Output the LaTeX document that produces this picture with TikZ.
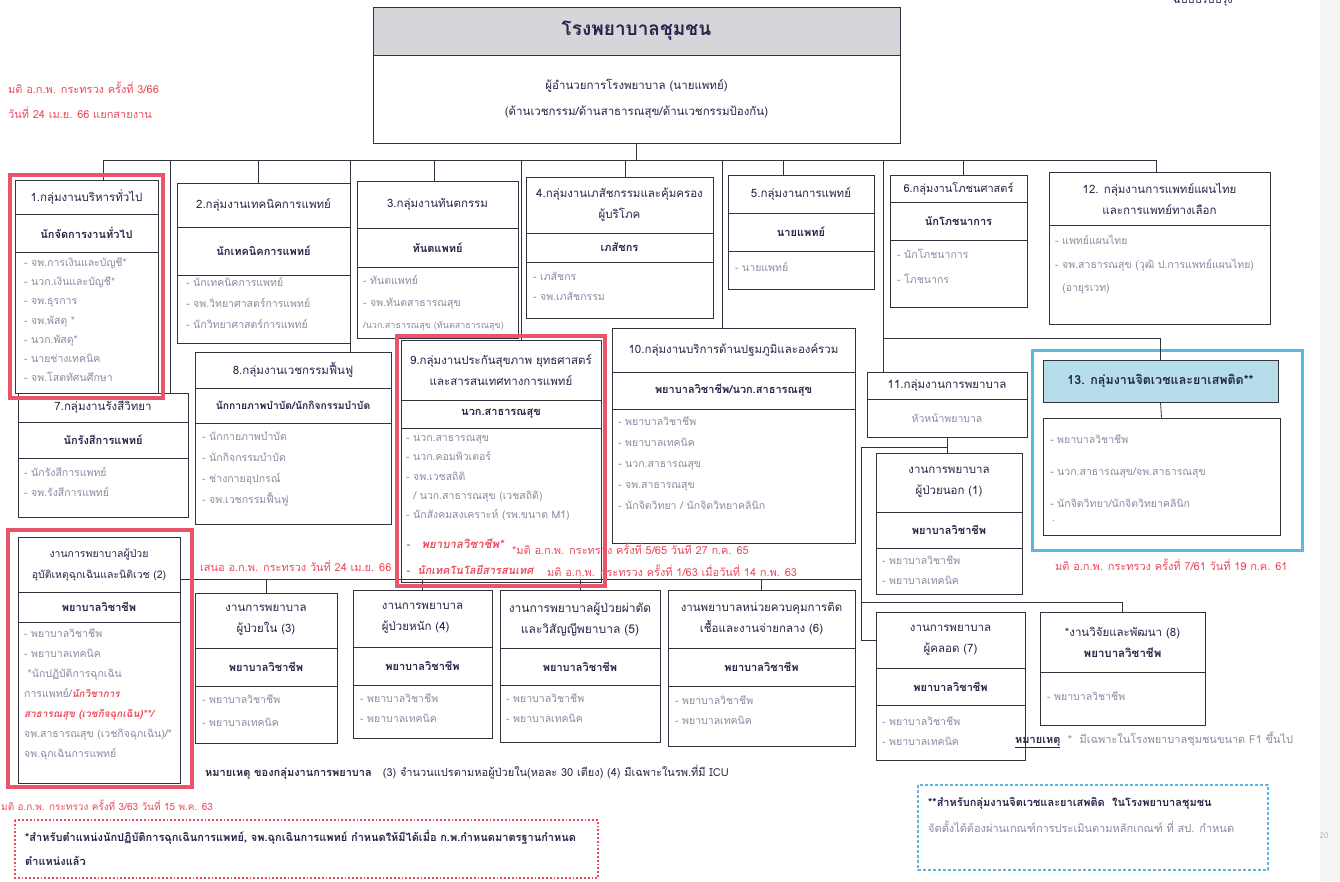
\documentclass[tikz,border=0pt]{standalone}
\usepackage{fontspec}
\setmainfont[Script=Thai]{Loma}
\newfontfamily\rit[Script=Thai,FakeSlant=0.2]{Loma}
\usetikzlibrary{calc}
\definecolor{ln}{HTML}{33333F}
\definecolor{tc}{HTML}{26264A}
\definecolor{lc}{HTML}{8C8AA2}
\definecolor{rc}{HTML}{EE4B5C}
\definecolor{rb}{HTML}{E9546B}
\definecolor{bb}{HTML}{5BB8E4}
\definecolor{bf}{HTML}{B5DDEA}
\definecolor{gf}{HTML}{D6D6DA}
\newcommand\bx[7]{\node[box,#6,minimum width={(#4-#2)*1pt},minimum height={(#5-#3)*1pt}] (#1) at ({(#2+#4)/2},{(#3+#5)/2}) {#7};}
\newcommand\lst[5]{\node[lst,font=\fontsize{10.5}{#4}\selectfont] (#1) at (#2,#3) {#5};}
\newcommand\rbi[1]{{\color{rc}\rit\bfseries #1}}
\begin{document}
\begin{tikzpicture}[x=1pt,y=-1pt,
  box/.style={draw=ln,line width=0.9pt,inner sep=1pt,align=center,text=tc,font=\fontsize{11.5}{21}\selectfont},
  sub/.style={font=\bfseries\fontsize{11}{12}\selectfont},
  lst/.style={anchor=north west,inner sep=0pt,align=left,text=lc},
  conn/.style={draw=ln,line width=0.8pt},
  rnote/.style={text=rc,inner sep=0pt,anchor=west,font=\fontsize{11}{12}\selectfont},
  redframe/.style={draw=rb,line width=3.5pt},
  note/.style={inner sep=0pt,anchor=west,text=tc,font=\fontsize{11}{12}\selectfont}]
\useasboundingbox (0,0) rectangle (1340,881);
\fill[white] (0,0) rectangle (1340,881);
\fill[gray!8] (1320,0) rectangle (1340,881);

% top
\bx{top}{373}{7}{900}{55}{fill=gf,font=\bfseries\fontsize{19}{21}\selectfont}{โรงพยาบาลชุมชน}
\bx{dir}{373}{55}{900}{143}{font=\fontsize{11.5}{26}\selectfont}{ผู้อำนวยการโรงพยาบาล (นายแพทย์)\\(ด้านเวชกรรม/ด้านสาธารณสุข/ด้านเวชกรรมป้องกัน)}
\node[inner sep=0pt,text=tc,font=\fontsize{11}{12}\selectfont] (ver) at (1203,1) {ฉบับปรับปรุง};

% group 1
\bx{g1t}{15}{180}{158}{214}{}{1.กลุ่มงานบริหารทั่วไป}
\bx{g1s}{15}{214}{158}{252}{sub}{นักจัดการงานทั่วไป}
\bx{g1l}{15}{252}{158}{393}{}{}
\lst{g1x}{24}{257}{19.3}{- จพ.การเงินและบัญชี*\\- นวก.เงินและบัญชี*\\- จพ.ธุรการ\\- จพ.พัสดุ *\\- นวก.พัสดุ*\\- นายช่างเทคนิค\\- จพ.โสตทัศนศึกษา}
% group 7
\bx{g7t}{18}{393}{188}{422}{}{7.กลุ่มงานรังสีวิทยา}
\bx{g7s}{18}{422}{188}{458}{sub}{นักรังสีการแพทย์}
\bx{g7l}{18}{458}{188}{517}{}{}
\lst{g7x}{24}{467}{20}{- นักรังสีการแพทย์\\- จพ.รังสีการแพทย์}
% group 2
\bx{g2t}{177}{183}{350}{227}{}{2.กลุ่มงานเทคนิคการแพทย์}
\bx{g2s}{177}{227}{350}{275}{sub}{นักเทคนิคการแพทย์}
\bx{g2l}{177}{275}{350}{343}{}{}
\lst{g2x}{186}{277}{21}{- นักเทคนิคการแพทย์\\- จพ.วิทยาศาสตร์การแพทย์\\- นักวิทยาศาสตร์การแพทย์}
% group 8
\bx{g8t}{195}{352}{391}{388}{}{8.กลุ่มงานเวชกรรมฟื้นฟู}
\bx{g8s}{195}{388}{391}{423}{sub,font=\bfseries\fontsize{10.3}{12}\selectfont}{นักกายภาพบำบัด/นักกิจกรรมบำบัด}
\bx{g8l}{195}{423}{391}{524}{}{}
\lst{g8x}{202}{432}{21}{- นักกายภาพบำบัด\\- นักกิจกรรมบำบัด\\- ช่างกายอุปกรณ์\\- จพ.เวชกรรมฟื้นฟู}
% group 3
\bx{g3t}{357}{181}{518}{228}{}{3.กลุ่มงานทันตกรรม}
\bx{g3s}{357}{228}{518}{267}{sub}{ทันตแพทย์}
\bx{g3l}{357}{267}{518}{338}{}{}
\lst{g3x}{363}{275}{22}{- ทันตแพทย์\\- จพ.ทันตสาธารณสุข\\{\fontsize{9}{22}\selectfont /นวก.สาธารณสุข (ทันตสาธารณสุข)}}
% group 4
\bx{g4t}{526}{177}{713}{233}{}{4.กลุ่มงานเภสัชกรรมและคุ้มครอง\\ผู้บริโภค}
\bx{g4s}{526}{233}{713}{262}{sub}{เภสัชกร}
\bx{g4l}{526}{262}{713}{318}{}{}
\lst{g4x}{533}{272}{20}{- เภสัชกร\\- จพ.เภสัชกรรม}
% group 5
\bx{g5t}{728}{175}{874}{213}{}{5.กลุ่มงานการแพทย์}
\bx{g5s}{728}{213}{874}{251}{sub}{นายแพทย์}
\bx{g5l}{728}{251}{874}{289}{}{}
\lst{g5x}{735}{262}{20}{- นายแพทย์}
% group 6
\bx{g6t}{890}{175}{1027}{202}{font=\fontsize{11}{12}\selectfont}{6.กลุ่มงานโภชนศาสตร์}
\bx{g6s}{890}{202}{1027}{240}{sub}{นักโภชนาการ}
\bx{g6l}{890}{240}{1027}{307}{}{}
\lst{g6x}{897}{249}{25}{- นักโภชนาการ\\- โภชนากร}
% group 12
\bx{g12t}{1049}{172}{1270}{225}{}{12. กลุ่มงานการแพทย์แผนไทย\\และการแพทย์ทางเลือก}
\bx{g12l}{1049}{225}{1270}{324}{}{}
\lst{g12x}{1055}{235}{23.5}{- แพทย์แผนไทย\\- จพ.สาธารณสุข (วุฒิ ป.การแพทย์แผนไทย)\\\ \ (อายุรเวท)}
% group 9
\bx{g9t}{401}{340}{601}{400}{}{9.กลุ่มงานประกันสุขภาพ ยุทธศาสตร์\\และสารสนเทศทางการแพทย์}
\bx{g9s}{401}{400}{601}{428}{sub}{นวก.สาธารณสุข}
\bx{g9l}{401}{428}{601}{582}{}{}
\lst{g9x}{406}{435}{19.3}{- นวก.สาธารณสุข\\- นวก.คอมพิวเตอร์\\- จพ.เวชสถิติ\\\ \ / นวก.สาธารณสุข (เวชสถิติ)\\- นักสังคมสงเคราะห์ (รพ.ขนาด M1)}
\node[rnote,font=\rit\bfseries\fontsize{11.5}{13}\selectfont] (g9r1) at (406,544) {-\quad พยาบาลวิชาชีพ*};
\node[rnote,font=\rit\bfseries\fontsize{11}{13}\selectfont] (g9r2) at (406,570) {-\ \ นักเทคโนโลยีสารสนเทศ};
% group 10
\bx{g10t}{612}{328}{855}{372}{}{10.กลุ่มงานบริการด้านปฐมภูมิและองค์รวม}
\bx{g10s}{612}{372}{855}{409}{sub}{พยาบาลวิชาชีพ/นวก.สาธารณสุข}
\bx{g10l}{612}{409}{855}{543}{}{}
\lst{g10x}{618}{416}{21}{- พยาบาลวิชาชีพ\\- พยาบาลเทคนิค\\- นวก.สาธารณสุข\\- จพ.สาธารณสุข\\- นักจิตวิทยา / นักจิตวิทยาคลินิก}
% group 11
\bx{g11t}{867}{372}{1027}{399}{}{11.กลุ่มงานการพยาบาล}
\bx{g11s}{867}{399}{1027}{437}{text=lc,font=\fontsize{10.5}{12}\selectfont}{หัวหน้าพยาบาล}
% nursing 1
\bx{n1t}{876}{453}{1022}{512}{}{งานการพยาบาล\\ผู้ป่วยนอก (1)}
\bx{n1s}{876}{512}{1022}{548}{sub}{พยาบาลวิชาชีพ}
\bx{n1l}{876}{548}{1022}{594}{}{}
\lst{n1x}{882}{555}{20}{- พยาบาลวิชาชีพ\\- พยาบาลเทคนิค}
% group 13
\draw[draw=bb,line width=3pt] (1032,350) rectangle (1302,550);
\bx{g13t}{1043}{360}{1278}{402}{fill=bf,font=\bfseries\fontsize{12.5}{14}\selectfont}{13. กลุ่มงานจิตเวชและยาเสพติด**}
\bx{g13l}{1043}{418}{1280}{535}{}{}
\lst{g13x}{1050}{434}{32}{- พยาบาลวิชาชีพ\\- นวก.สาธารณสุข/จพ.สาธารณสุข\\- นักจิตวิทยา/นักจิตวิทยาคลินิก}
\node[lst] (g13d) at (1052,520) {.};
% nursing 2
\bx{n2t}{18}{537}{180}{592}{font=\fontsize{10.5}{21}\selectfont}{งานการพยาบาลผู้ป่วย\\อุบัติเหตุฉุกเฉินและนิติเวช (2)}
\bx{n2s}{18}{592}{180}{622}{sub}{พยาบาลวิชาชีพ}
\bx{n2l}{18}{622}{180}{783}{}{}
\lst{n2x}{24}{628}{20}{- พยาบาลวิชาชีพ\\- พยาบาลเทคนิค\\\ *นักปฏิบัติการฉุกเฉิน\\การแพทย์/\rbi{\fontsize{10}{20}\selectfont นักวิชาการ}\\\rbi{\fontsize{10}{20}\selectfont สาธารณสุข (เวชกิจฉุกเฉิน)**/}\\จพ.สาธารณสุข (เวชกิจฉุกเฉิน)/*\\จพ.ฉุกเฉินการแพทย์}
% nursing 3
\bx{n3t}{195}{593}{337}{648}{}{งานการพยาบาล\\ผู้ป่วยใน (3)}
\bx{n3s}{195}{648}{337}{686}{sub}{พยาบาลวิชาชีพ}
\bx{n3l}{195}{686}{337}{743}{}{}
\lst{n3x}{202}{694}{23}{- พยาบาลวิชาชีพ\\- พยาบาลเทคนิค}
% nursing 4
\bx{n4t}{353}{590}{492}{647}{align=left}{งานการพยาบาล\\ผู้ป่วยหนัก (4)}
\bx{n4s}{353}{647}{492}{685}{sub}{พยาบาลวิชาชีพ}
\bx{n4l}{353}{685}{492}{738}{}{}
\lst{n4x}{360}{693}{20}{- พยาบาลวิชาชีพ\\- พยาบาลเทคนิค}
% nursing 5
\bx{n5t}{500}{590}{660}{648}{font=\fontsize{12}{21}\selectfont}{งานการพยาบาลผู้ป่วยผ่าตัด\\และวิสัญญีพยาบาล (5)}
\bx{n5s}{500}{648}{660}{685}{sub}{พยาบาลวิชาชีพ}
\bx{n5l}{500}{685}{660}{742}{}{}
\lst{n5x}{506}{693}{20}{- พยาบาลวิชาชีพ\\- พยาบาลเทคนิค}
% nursing 6
\bx{n6t}{668}{590}{855}{648}{}{งานพยาบาลหน่วยควบคุมการติด\\เชื้อและงานจ่ายกลาง (6)}
\bx{n6s}{668}{648}{855}{686}{sub}{พยาบาลวิชาชีพ}
\bx{n6l}{668}{686}{855}{746}{}{}
\lst{n6x}{675}{695}{20}{- พยาบาลวิชาชีพ\\- พยาบาลเทคนิค}
% nursing 7
\bx{n7t}{876}{612}{1025}{668}{}{งานการพยาบาล\\ผู้คลอด (7)}
\bx{n7s}{876}{668}{1025}{705}{sub}{พยาบาลวิชาชีพ}
\bx{n7l}{876}{705}{1025}{760}{}{}
\lst{n7x}{882}{716}{20}{- พยาบาลวิชาชีพ\\- พยาบาลเทคนิค}
% nursing 8
\bx{n8t}{1040}{612}{1205}{672}{}{*งานวิจัยและพัฒนา (8)\\{\bfseries พยาบาลวิชาชีพ}}
\bx{n8l}{1040}{672}{1205}{725}{}{}
\lst{n8x}{1047}{691}{20}{- พยาบาลวิชาชีพ}

% connectors
\coordinate (bL) at (103,160);
\coordinate (bR) at (1156,160);
\draw[conn] (dir.south) -- (dir.south |- bL);
\draw[conn] (bL) -- (bR);
\foreach \x/\n in {103/g1t,170/g7t,258/g2t,350/g8t,434/g3t,521/g9t,625/g4t,722/g10t,783/g5t,883/g11t,963/g6t,1156/g12t}
  {\coordinate (d\n) at (\x,160); \draw[conn] (d\n) -- (d\n |- \n.north);}
\coordinate (j13) at (883,338);
\draw[conn] (j13) -- (j13 -| g13t.north) -- (g13t.north);
\draw[conn] (g13t.south) -- (g13l.north);
\coordinate (k1) at (861,447);
\coordinate (k3) at (861,602);
\coordinate (k4) at (861,579);
\draw[conn] (g11s.south) -- (g11s.south |- n1t.north);
\draw[conn] (g11s.south |- k1) -- (k1) -- (k1 |- n7t.west) -- (n7t.west);
\draw[conn] (k3) -- (k3 -| n8t.north) -- (n8t.north);
\draw[conn] (n2t.east |- k4) -- (k4);
\foreach \n in {n3t,n4t,n5t,n6t} {\draw[conn] (\n.north |- k4) -- (\n.north);}

% notes
\node[rnote] (r1) at (8,88) {มติ อ.ก.พ. กระทรวง ครั้งที่ 3/66};
\node[rnote] (r2) at (8,113) {วันที่ 24 เม.ย. 66 แยกสายงาน};
\node[rnote] (r3) at (200,566) {เสนอ อ.ก.พ. กระทรวง วันที่ 24 เม.ย. 66};
\node[rnote] (r4) at (512,549) {*มติ อ.ก.พ. กระทรวง ครั้งที่ 5/65 วันที่ 27 ก.ค. 65};
\node[rnote] (r5) at (547,571) {มติ อ.ก.พ. กระทรวง ครั้งที่ 1/63 เมื่อวันที่ 14 ก.พ. 63};
\node[rnote] (r6) at (1055,565) {มติ อ.ก.พ. กระทรวง ครั้งที่ 7/61 วันที่ 19 ก.ค. 61};
\node[rnote,font=\fontsize{10}{11}\selectfont] (r7) at (1,805) {มติ อ.ก.พ. กระทรวง ครั้งที่ 3/63 วันที่ 15 พ.ค. 63};

% red frames
\draw[redframe] (10,175) rectangle (163,398);
\draw[redframe] (397,336) rectangle (605,586);
\draw[redframe] (8,530) rectangle (192,787);

\node[note] (nn) at (205,772) {{\bfseries หมายเหตุ ของกลุ่มงานการพยาบาล}\quad (3) จำนวนแปรตามหอผู้ป่วยใน(หอละ 30 เตียง) (4) มีเฉพาะในรพ.ที่มี ICU};
\node[note] (nf) at (1015,740) {\underline{\bfseries หมายเหตุ}\ \ {\color{lc}* \ มีเฉพาะในโรงพยาบาลชุมชนขนาด F1 ขึ้นไป}};

% bottom boxes
\draw[draw=rc,line width=1.8pt,dotted] (15,820) rectangle (598,878);
\node[note,anchor=north west,align=left,font=\bfseries\fontsize{11}{24}\selectfont] (fr) at (25,830) {*สำหรับตำแหน่งนักปฏิบัติการฉุกเฉินการแพทย์, จพ.ฉุกเฉินการแพทย์ กำหนดให้มีได้เมื่อ ก.พ.กำหนดมาตรฐานกำหนด\\ตำแหน่งแล้ว};
\draw[draw=bb,line width=1.2pt,dash pattern=on 3pt off 2pt] (918,785) rectangle (1268,870);
\node[note,font=\bfseries\fontsize{11}{12}\selectfont] (fb1) at (928,803) {**สำหรับกลุ่มงานจิตเวชและยาเสพติด\ \ ในโรงพยาบาลชุมชน};
\node[note,text=lc] (fb2) at (928,827) {จัดตั้งได้ต้องผ่านเกณฑ์การประเมินตามหลักเกณฑ์ ที่ สป. กำหนด};
\node[inner sep=0pt,text=lc!60,font=\fontsize{8}{9}\selectfont] (pg) at (1324,836) {20};
\end{tikzpicture}
\end{document}
